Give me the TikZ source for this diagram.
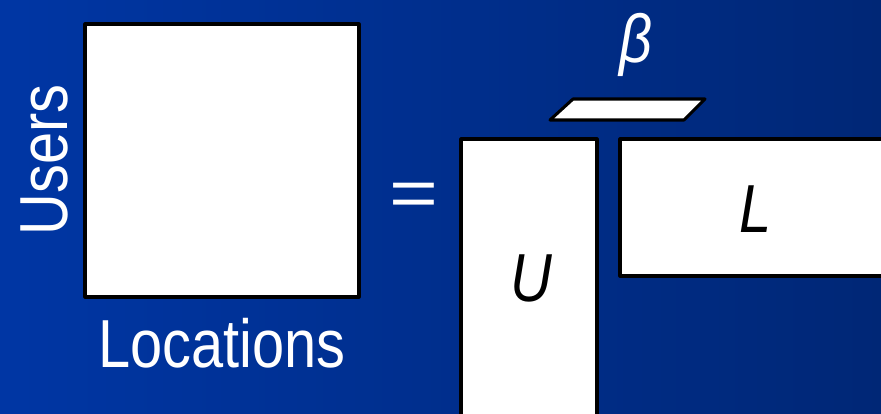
\documentclass[tikz,border=0pt]{standalone}
\usepackage{fontspec}
\setmainfont{Liberation Sans}[FakeStretch=0.85]
\usetikzlibrary{positioning}
\definecolor{bgleft}{RGB}{0,54,164}
\definecolor{bgright}{RGB}{0,39,118}
\tikzset{
  matbox/.style={line width=2.6pt,draw=black,fill=white},
  bigtext/.style={font=\fontsize{58}{60}\selectfont,inner sep=0pt}
}

\begin{document}
\begin{tikzpicture}[x=0.03cm,y=-0.03cm,line join=round,line cap=round]
\useasboundingbox (0,0) rectangle (881,413);
\shade[left color=bgleft,right color=bgright] (0,0) rectangle (881,413);
% matrices
\coordinate (R) at (85,24);
\coordinate (U) at (461,139);
\coordinate (L) at (620,139);
\begin{scope}
\clip (0,0) rectangle (881,413);
\draw[matbox] (R) rectangle ++(274,273)
	(U) rectangle ++(136,277)
	(L) rectangle ++(276,137);
\draw[matbox] (573,99) -- (705,99) -- (684,120) -- (550,120) -- cycle;
\end{scope}
% labels
\node[bigtext,white,rotate=90,anchor=base] (users) at (67,160) {Users};
\node[bigtext,white,anchor=base] (locations) at (222,367) {Locations};
\begin{scope}[shift={(414,200)},xscale=1.45,transform shape]
	\node[bigtext,white] (equal) at (0,0) {=};
\end{scope}
\node[bigtext,white] (beta) at (636,45) {\itshape β};
\node[bigtext,anchor=base] (ulab) at (531,301) {\itshape U};
\node[bigtext,anchor=base] (llab) at (756,232) {\itshape L};
\end{tikzpicture}
\end{document}
